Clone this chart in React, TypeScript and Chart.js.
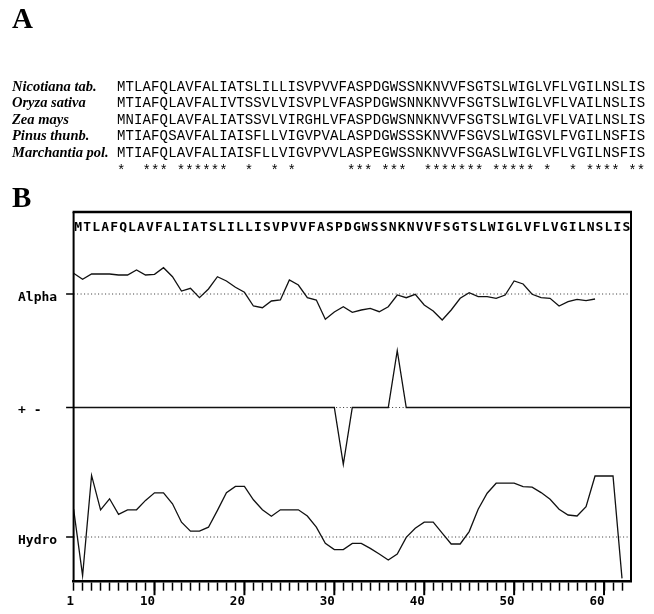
import React, { useEffect, useRef } from 'react';
import { Chart, registerables } from 'chart.js';

Chart.register(...registerables);

// ---------- Panel A: alignment ----------
const SPECIES = ['Nicotiana tab.', 'Oryza sativa', 'Zea mays', 'Pinus thunb.', 'Marchantia pol.'];
const SEQUENCES = [
  'MTLAFQLAVFALIATSLILLISVPVVFASPDGWSSNKNVVFSGTSLWIGLVFLVGILNSLIS',
  'MTIAFQLAVFALIVTSSVLVISVPLVFASPDGWSNNKNVVFSGTSLWIGLVFLVAILNSLIS',
  'MNIAFQLAVFALIATSSVLVIRGHLVFASPDGWSNNKNVVFSGTSLWIGLVFLVAILNSLIS',
  'MTIAFQSAVFALIAISFLLVIGVPVALASPDGWSSSKNVVFSGVSLWIGSVLFVGILNSFIS',
  'MTIAFQLAVFALIAISFLLVIGVPVVLASPEGWSSNKNVVFSGASLWIGLVFLVGILNSFIS',
];

// ---------- Panel B: profiles ----------
const RESIDUES = [
  1, 2, 3, 4, 5, 6, 7, 8, 9, 10, 11, 12, 13, 14, 15, 16, 17, 18, 19, 20,
  21, 22, 23, 24, 25, 26, 27, 28, 29, 30, 31, 32, 33, 34, 35, 36, 37, 38, 39, 40,
  41, 42, 43, 44, 45, 46, 47, 48, 49, 50, 51, 52, 53, 54, 55, 56, 57, 58, 59, 60,
  61, 62, 63,
];
const ALPHA = [
  2.07, 1.47, 2.0, 2.0, 2.0, 1.9, 1.9, 2.4, 1.9, 1.97,
  2.63, 1.73, 0.3, 0.57, -0.37, 0.5, 1.73, 1.3, 0.67, 0.17,
  -1.2, -1.37, -0.7, -0.6, 1.4, 0.9, -0.37, -0.6, -2.53, -1.8,
  -1.27, -1.83, -1.6, -1.43, -1.77, -1.27, -0.1, -0.37, -0.03, -1.1,
  -1.7, -2.6, -1.6, -0.43, 0.13, -0.27, -0.27, -0.43, -0.1, 1.3,
  1.0, -0.03, -0.37, -0.43, -1.2, -0.77, -0.53, -0.67, -0.5,
];
const CHARGE = [
  0, 0, 0, 0, 0, 0, 0, 0, 0, 0,
  0, 0, 0, 0, 0, 0, 0, 0, 0, 0,
  0, 0, 0, 0, 0, 0, 0, 0, 0, 0,
  -1, 0, 0, 0, 0, 0, 1, 0, 0, 0,
  0, 0, 0, 0, 0, 0, 0, 0, 0, 0,
  0, 0, 0, 0, 0, 0, 0, 0, 0, 0,
  0, 0, 0,
];
const HYDRO = [
  1.4, -1.93, 3.08, 1.36, 1.91, 1.13, 1.36, 1.36, 1.83, 2.21,
  2.21, 1.66, 0.74, 0.29, 0.29, 0.49, 1.33, 2.21, 2.53, 2.53,
  1.86, 1.36, 1.04, 1.36, 1.36, 1.36, 1.05, 0.49, -0.31, -0.63,
  -0.63, -0.32, -0.32, -0.57, -0.85, -1.15, -0.85, -0.02, 0.44, 0.74,
  0.74, 0.19, -0.35, -0.35, 0.27, 1.39, 2.19, 2.69, 2.69, 2.69,
  2.52, 2.49, 2.22, 1.89, 1.39, 1.1, 1.05, 1.52, 3.05, 3.05,
  3.05, -2.07,
];
const X_TICK_LABELS = [1, 10, 20, 30, 40, 50, 60];
const TRACK_LABELS = ['Alpha', '+ -', 'Hydro'];
const TRACK_AXES = ['yA', 'yC', 'yH'];
const X_RANGE = [1, 63];
const ALPHA_RANGE = [-28.77, 8.2];
const CHARGE_RANGE = [-3.067, 3.442];
const HYDRO_RANGE = [-2.235, 16.25];

const STARS = SEQUENCES[0]
  .split('')
  .map((c, i) => (SEQUENCES.every((s) => s[i] === c) ? '*' : ' '))
  .join('');

const MONO_BOLD = 'bold 13px "DejaVu Sans Mono"';

const overlay = {
  id: 'overlay',
  beforeDatasetsDraw(chart: any) {
    const { ctx, chartArea: a } = chart;
    ctx.save();
    ctx.setLineDash([1, 2.5]);
    ctx.lineWidth = 1;
    ctx.strokeStyle = '#333';
    TRACK_AXES.forEach((id) => {
      const y = chart.scales[id].getPixelForValue(0);
      ctx.beginPath();
      ctx.moveTo(a.left, y);
      ctx.lineTo(a.right, y);
      ctx.stroke();
    });
    ctx.restore();
  },
  afterDraw(chart: any) {
    const { ctx, chartArea: a } = chart;
    const xs = chart.scales.x;
    const line = (x1: number, y1: number, x2: number, y2: number) => {
      ctx.beginPath();
      ctx.moveTo(x1, y1);
      ctx.lineTo(x2, y2);
      ctx.stroke();
    };
    ctx.save();
    ctx.strokeStyle = '#000';
    ctx.fillStyle = '#000';
    // frame
    ctx.lineWidth = 2.5;
    line(a.left - 1, a.top, a.right + 1, a.top);
    ctx.lineWidth = 2;
    line(a.left, a.top, a.left, a.bottom);
    line(a.right, a.top, a.right, a.bottom);
    // track ticks and labels
    ctx.lineWidth = 1.5;
    ctx.font = MONO_BOLD;
    ctx.textBaseline = 'middle';
    ctx.textAlign = 'left';
    TRACK_AXES.forEach((id, i) => {
      const y = chart.scales[id].getPixelForValue(0);
      line(a.left - 7.5, y, a.left, y);
      ctx.fillText(TRACK_LABELS[i], 18, y + 3.5);
    });
    // major ticks
    ctx.lineWidth = 2;
    X_TICK_LABELS.filter((v) => v % 10 === 0).forEach((v) => {
      const x = xs.getPixelForValue(v);
      line(x, a.bottom, x, a.bottom + 13.5);
    });
    // sequence on top of profile
    ctx.textAlign = 'center';
    SEQUENCES[0].split('').forEach((c, i) => {
      ctx.fillText(c, xs.getPixelForValue(RESIDUES[i] + 0.5), a.top + 15.5);
    });
    ctx.restore();
  },
};

function pts(values: number[]) {
  return values.map((v, i) => ({ x: RESIDUES[i], y: v }));
}

const serif = '"Liberation Serif", "Times New Roman", serif';
const mono = '"Liberation Mono", "Courier New", monospace';

function textStyle(x: number, baseline: number, size: number, k: number, extra: any = {}) {
  return {
    position: 'absolute' as const,
    left: x,
    top: baseline - size * k,
    fontSize: size,
    lineHeight: `${size}px`,
    whiteSpace: 'pre' as const,
    color: '#000',
    margin: 0,
    ...extra,
  };
}

const ROW_BASELINES = [90.7, 107.2, 123.7, 140.2, 156.7];
const STAR_BASELINE = 175;

export default function App() {
  const ref = useRef<HTMLCanvasElement>(null);
  useEffect(() => {
    const chart = new Chart(ref.current as HTMLCanvasElement, {
      type: 'line',
      data: {
        datasets: [
          { label: 'Alpha', data: pts(ALPHA), yAxisID: 'yA' },
          { label: 'Charge', data: pts(CHARGE), yAxisID: 'yC' },
          { label: 'Hydro', data: pts(HYDRO), yAxisID: 'yH' },
        ],
      },
      options: {
        responsive: false,
        animation: false,
        layout: { padding: { left: 73.6, right: 23, top: 212, bottom: 0 } },
        plugins: { legend: { display: false }, tooltip: { enabled: false } },
        elements: {
          point: { radius: 0 },
          line: { tension: 0, borderWidth: 1.3, borderColor: '#111', fill: false },
        },
        scales: {
          x: {
            type: 'linear',
            min: X_RANGE[0],
            max: X_RANGE[1],
            afterFit: (s: any) => {
              s.height = 32.3;
            },
            border: { display: true, color: '#000', width: 2.5 },
            grid: {
              drawOnChartArea: false,
              drawTicks: true,
              tickLength: 9,
              tickWidth: 1.5,
              tickColor: (c: any) => (c.tick && c.tick.value > 62 ? 'rgba(0,0,0,0)' : '#000'),
            },
            ticks: {
              stepSize: 1,
              autoSkip: false,
              maxRotation: 0,
              align: 'end',
              labelOffset: 0.5,
              padding: 4,
              color: '#000',
              font: { family: 'DejaVu Sans Mono', size: 12.5, weight: 'bold' },
              callback: (v: any) => (X_TICK_LABELS.includes(v) ? String(v) : ''),
            },
          },
          yA: { display: false, min: ALPHA_RANGE[0], max: ALPHA_RANGE[1] },
          yC: { display: false, min: CHARGE_RANGE[0], max: CHARGE_RANGE[1] },
          yH: { display: false, min: HYDRO_RANGE[0], max: HYDRO_RANGE[1] },
        },
      } as any,
      plugins: [overlay],
    });
    return () => chart.destroy();
  }, []);

  return (
    <div style={{ position: 'fixed', left: 0, top: 0, width: 654, height: 614, background: '#fff', overflow: 'hidden' }}>
      <canvas ref={ref} width={654} height={614} style={{ position: 'absolute', left: 0, top: 0, width: 654, height: 614 }} />
      <div style={textStyle(12, 28.3, 29, 0.8375, { fontFamily: serif, fontWeight: 'bold' })}>A</div>
      {SPECIES.map((name, i) => (
        <div key={name} style={textStyle(12, ROW_BASELINES[i], 14.5, 0.8375, { fontFamily: serif, fontWeight: 'bold', fontStyle: 'italic' })}>
          {name}
        </div>
      ))}
      {SEQUENCES.map((seq, i) => (
        <div key={'s' + i} style={textStyle(117, ROW_BASELINES[i], 14, 0.7665, { fontFamily: mono, letterSpacing: '0.12px' })}>
          {seq}
        </div>
      ))}
      <div style={textStyle(117, STAR_BASELINE, 14, 0.7665, { fontFamily: mono, letterSpacing: '0.12px' })}>{STARS}</div>
      <div style={textStyle(12, 207, 29, 0.8375, { fontFamily: serif, fontWeight: 'bold' })}>B</div>
    </div>
  );
}
